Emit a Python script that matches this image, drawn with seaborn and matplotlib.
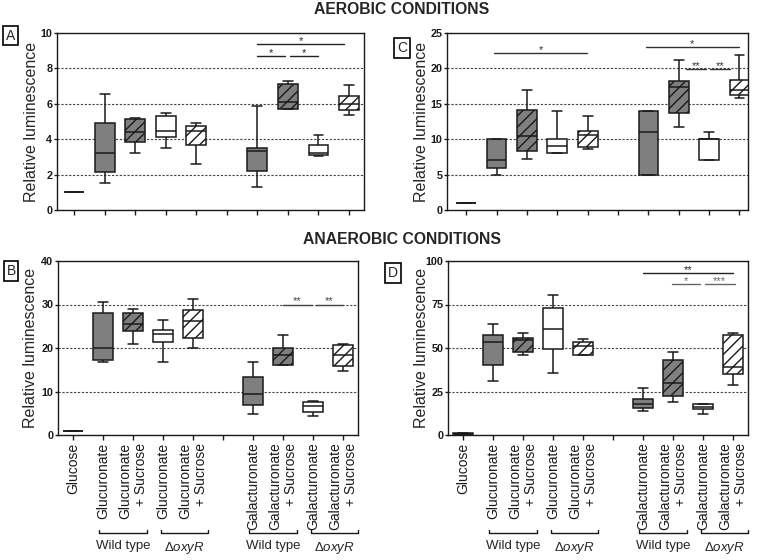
import numpy as np
import pandas as pd
import matplotlib
matplotlib.use("Agg")
import matplotlib.pyplot as plt
import matplotlib.transforms as mtransforms
import seaborn as sns

sns.set_style("ticks")
plt.rcParams["font.family"] = ["Liberation Sans", "DejaVu Sans"]
plt.rcParams["mathtext.fontset"] = "custom"
plt.rcParams["mathtext.rm"] = "Liberation Sans"
plt.rcParams["mathtext.it"] = "Liberation Sans:italic"
plt.rcParams["mathtext.bf"] = "Liberation Sans:bold"
plt.rcParams["hatch.linewidth"] = 1.0

# ---------------- data ----------------
categories = ["Glucose", "GlcA WT", "GlcA WT Suc", "GlcA dOxyR", "GlcA dOxyR Suc", "gap",
              "GalA WT", "GalA WT Suc", "GalA dOxyR", "GalA dOxyR Suc"]
box_categories = [c for c in categories if c != "gap"]
tick_labels = ["Glucose", "Glucuronate", "Glucuronate\n+ Sucrose", "Glucuronate", "Glucuronate\n+ Sucrose", "",
               "Galacturonate", "Galacturonate\n+ Sucrose", "Galacturonate", "Galacturonate\n+ Sucrose"]
fills = ["#7f7f7f", "#7f7f7f", "#7f7f7f", "#ffffff", "#ffffff",
         "#7f7f7f", "#7f7f7f", "#ffffff", "#ffffff"]
hatches = ["", "", "///", "", "///", "", "///", "", "///"]

# Panel A (aerobic) : min, q1, median, q3, max
A_min = [1, 1.5, 3.2, 3.48, 2.6, 1.3, 5.7, 3.06, 5.39]
A_q1 = [1, 2.16, 3.85, 4.14, 3.7, 2.22, 5.7, 3.1, 5.64]
A_med = [1, 3.2, 4.38, 4.47, 4.45, 3.33, 6.1, 3.23, 6.0]
A_q3 = [1, 4.89, 5.15, 5.32, 4.76, 3.52, 7.14, 3.67, 6.45]
A_max = [1, 6.58, 5.19, 5.49, 4.89, 5.9, 7.31, 4.23, 7.09]

# Panel C (aerobic)
C_min = [1, 5, 7.17, 8, 8.68, 5, 11.75, 7, 15.75]
C_q1 = [1, 6, 8.4, 8, 8.96, 5, 13.68, 7, 16.2]
C_med = [1, 7, 10.4, 9.06, 10.57, 11, 17.36, 10, 16.9]
C_q3 = [1, 10, 14.15, 10, 11.1, 14, 18.16, 10, 18.3]
C_max = [1, 10, 16.9, 14, 13.3, 14, 21.2, 11, 21.84]

# Panel B (anaerobic)
B_min = [1, 16.8, 21.0, 16.8, 20.1, 4.74, 16, 4.28, 14.6]
B_q1 = [1, 17.2, 23.9, 21.3, 22.2, 6.8, 16, 5.35, 15.8]
B_med = [1, 20, 25.5, 23.2, 26.3, 9.33, 18.4, 6.65, 18.35]
B_q3 = [1, 28.1, 28.1, 24.2, 28.8, 13.4, 20, 7.65, 20.8]
B_max = [1, 30.5, 29.0, 26.5, 31.3, 16.7, 22.9, 7.9, 21.0]

# Panel D (anaerobic)
D_min = [0.3, 30.8, 45.9, 35.9, 45.9, 14.0, 19.1, 11.9, 28.5]
D_q1 = [0.3, 40.3, 47.8, 49.7, 45.9, 15.3, 22.2, 14.7, 34.8]
D_med = [0.6, 53.2, 54.7, 60.8, 51.4, 17.8, 29.6, 16.25, 39.2]
D_q3 = [1.0, 57.2, 55.8, 72.8, 53.7, 20.5, 43.2, 17.6, 57.4]
D_max = [1.0, 63.7, 58.9, 80.7, 55.4, 26.8, 47.8, 17.6, 58.5]

# significance bars: (x1, x2, y, label, colour)
A_sig = [(6, 8.85, 9.38, "*", "#222222"), (6, 6.92, 8.7, "*", "#222222"), (7.06, 7.97, 8.7, "*", "#222222")]
C_sig = [(0.93, 3.98, 22.17, "*", "#333333"), (5.93, 8.97, 22.97, "*", "#333333"),
         (7.24, 7.9, 19.95, "**", "#333333"), (8.04, 8.7, 19.95, "**", "#333333")]
B_sig = [(7.0, 7.95, 30, "**", "#444444"), (8.1, 9.0, 30, "**", "#444444")]
D_sig = [(6, 9, 93.3, "**", "#222222"), (6.95, 7.9, 86.6, "*", "#666666"), (8.07, 9.05, 86.6, "***", "#666666")]

groups = [(0.87, 2.47, "Wild type"), (2.92, 4.5, r"$\Delta\mathit{oxyR}$"),
          (5.87, 7.47, "Wild type"), (7.92, 9.5, r"$\Delta\mathit{oxyR}$")]

panels = {
    "A": dict(stats=(A_min, A_q1, A_med, A_q3, A_max), sig=A_sig, ylim=(0, 10), yticks=[0, 2, 4, 6, 8, 10],
              rect=[57, 33, 307, 177], xlim=(-0.56, 9.49), labels=False, ylab_x=30),
    "C": dict(stats=(C_min, C_q1, C_med, C_q3, C_max), sig=C_sig, ylim=(0, 25), yticks=[0, 5, 10, 15, 20, 25],
              rect=[447, 33, 301, 177], xlim=(-0.63, 9.28), labels=False, ylab_x=419.5),
    "B": dict(stats=(B_min, B_q1, B_med, B_q3, B_max), sig=B_sig, ylim=(0, 40), yticks=[0, 10, 20, 30, 40],
              rect=[58, 261, 300, 174], xlim=(-0.5, 9.5), labels=True, ylab_x=29.5),
    "D": dict(stats=(D_min, D_q1, D_med, D_q3, D_max), sig=D_sig, ylim=(0, 100), yticks=[0, 25, 50, 75, 100],
              rect=[448, 261, 300, 174], xlim=(-0.5, 9.5), labels=True, ylab_x=419.5),
}
panel_label_pos = {"A": (10.5, 35.5), "C": (402, 48), "B": (11, 271), "D": (393, 273)}

W, H = 759, 560
fig = plt.figure(figsize=(W / 100, H / 100), dpi=100)
edge = "#1a1a1a"

for name, cfg in panels.items():
    l, t, w, h = cfg["rect"]
    ax = fig.add_axes([l / W, 1 - (t + h) / H, w / W, h / H])
    rows = []
    for i, cat in enumerate(box_categories):
        for s in cfg["stats"]:
            rows.append((cat, s[i]))
    df = pd.DataFrame(rows, columns=["cat", "value"])
    for i, cat in enumerate(box_categories):
        n0 = len(ax.patches)
        sns.boxplot(data=df[df["cat"] == cat], x="cat", y="value", order=categories,
                    whis=(0, 100), width=0.65, color=fills[i], saturation=1,
                    linecolor=edge, linewidth=1.1, showfliers=False, ax=ax)
        for p in ax.patches[n0:]:
            p.set_hatch(hatches[i])
            p.set_zorder(2)
    ax.set_xlim(*cfg["xlim"])
    ax.set_ylim(*cfg["ylim"])
    ax.set_yticks(cfg["yticks"], labels=[str(v) for v in cfg["yticks"]],
                  fontweight="bold", fontsize=7.8)
    ax.set_xticks(range(len(categories)))
    ax.grid(axis="y", linestyle=(0, (2, 1.5)), color="#444444", linewidth=0.8)
    ax.set_axisbelow(True)
    for sp in ax.spines.values():
        sp.set_visible(True)
        sp.set_color(edge)
        sp.set_linewidth(1.0)
    ax.tick_params(axis="x", direction="out", length=3.5, width=1, colors=edge, pad=2)
    ax.tick_params(axis="y", direction="out", length=2.5, width=1, colors=edge, pad=0.8)
    ax.set_xlabel("")
    ax.set_ylabel("Relative luminescence", fontsize=11.5)
    # label centre at ylab_x px: anchor (right side of rotated text) sits ~9 px right of centre
    ax.yaxis.set_label_coords((cfg["ylab_x"] + 9.0 - l) / w, 0.5)
    if cfg["labels"]:
        ax.set_xticklabels(tick_labels, rotation=90, fontsize=10, ma="right")
        trans = mtransforms.blended_transform_factory(ax.transData, ax.transAxes)
        for x1, x2, lab in groups:
            ax.plot([x1, x1, x2, x2], [-0.548, -0.563, -0.563, -0.548], transform=trans,
                    clip_on=False, color=edge, lw=1)
            ax.text((x1 + x2) / 2, -0.605, lab, transform=trans, ha="center", va="top", fontsize=9.5)
    else:
        ax.set_xticklabels([""] * len(categories))
    for x1, x2, y, lab, col in cfg["sig"]:
        ax.plot([x1, x2], [y, y], color=col, lw=1)
        ax.annotate(lab, xy=((x1 + x2) / 2, y), xytext=(0, 0), textcoords="offset points",
                    ha="center", va="baseline", fontsize=8, color=col)
    px, py = panel_label_pos[name]
    fig.text(px / W, 1 - py / H, name, ha="center", va="center", fontsize=10,
             bbox=dict(boxstyle="square,pad=0.2", fc="white", ec="black", lw=1.2))

fig.text(402 / W, 1 - 10 / H, "AEROBIC CONDITIONS", ha="center", va="center",
         fontsize=11.3, fontweight="bold")
fig.text(402 / W, 1 - 240 / H, "ANAEROBIC CONDITIONS", ha="center", va="center",
         fontsize=11.3, fontweight="bold")

fig.savefig("out.png", dpi=100)
